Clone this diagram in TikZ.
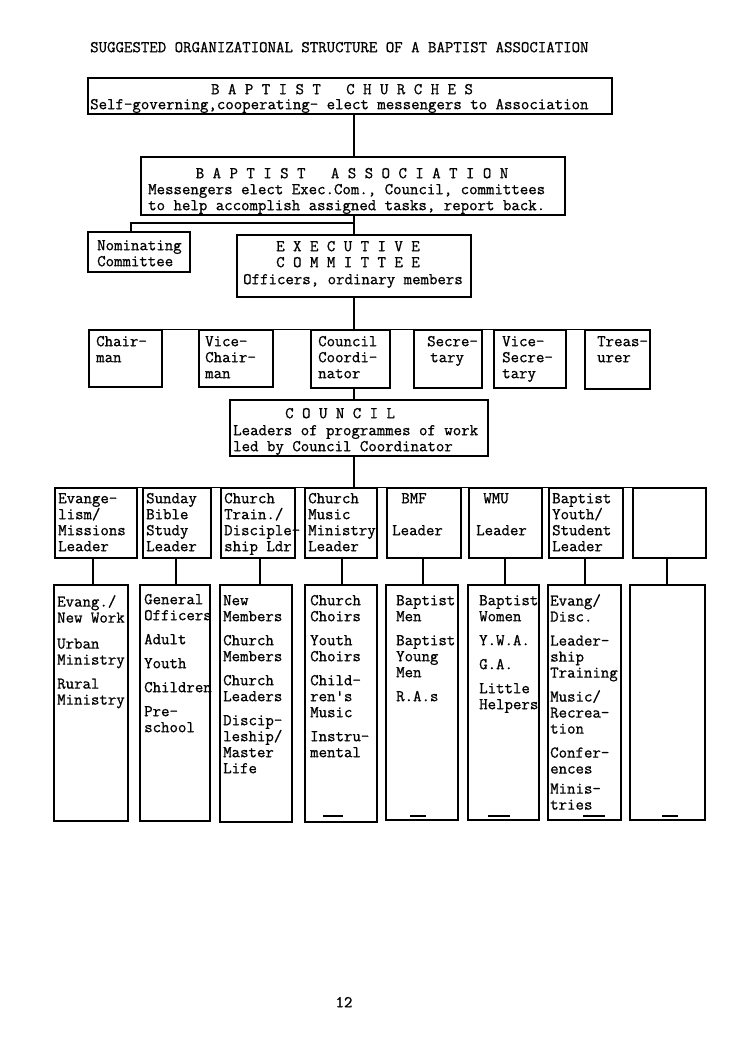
\documentclass[tikz,border=0pt]{standalone}
\usepackage{fontspec}
\usetikzlibrary{fit}
\newfontfamily\twfam{Latin Modern Mono}[FakeBold=0.9]
\newcommand\tw{\twfam\fontsize{16.4}{16}\selectfont}
\newcommand\st{\rule{0pt}{11pt}}
\begin{document}
\begin{tikzpicture}[x=1pt,y=-1pt,
  box/.style={draw, line width=1.3pt, inner sep=0pt, fit={#1}},
  txt/.style={font=\tw, inner sep=0pt, align=left, anchor=north west},
  ctxt/.style={font=\tw, inner sep=0pt, align=center, anchor=north},
  ln/.style={line width=1.3pt},
  ulmark/.style={line width=1.6pt}]
\useasboundingbox (0,0) rectangle (749,1059);
\coordinate (spine) at (354,0);

% title
\node[txt] (title) at (90,41) {\st SUGGESTED ORGANIZATIONAL STRUCTURE OF A BAPTIST ASSOCIATION};

% churches
\node[box={(88,78) (612,114)}] (church) {};
\node[ctxt] (churchh) at (342,83) {\st B A P T I S T~~~C H U R C H E S};
\node[txt] (churcht) at (90,98) {\st Self-governing,cooperating- elect messengers to Association};

% association
\node[box={(141,157) (565,215)}] (assoc) {};
\node[ctxt] (assoch) at (352,167) {\st B A P T I S T~~~A S S O C I A T I O N};
\node[txt] (assoct) at (148,183) {\st Messengers elect Exec.Com., Council, committees\\to help accomplish assigned tasks, report back.};

% nominating
\node[box={(88,232) (190,272)}] (nom) {};
\node[txt] (nomt) at (97,239) {\st Nominating\\Committee};

% executive
\node[box={(237,235) (471,297)}] (exec) {};
\node[ctxt] (exech) at (348,240) {\st E X E C U T I V E\\C O M M I T T E E};
\node[txt] (exect) at (243,273) {\st Officers, ordinary members};

% officers
\node[box={(89,330) (162,387)}] (chair) {};
\node[txt] (chairt) at (96,335) {\st Chair-\\man};
\node[box={(199,330) (273,387)}] (vchair) {};
\node[txt] (vchairt) at (205,335) {\st Vice-\\Chair-\\man};
\node[box={(311,330) (390,388)}] (coord) {};
\node[txt] (coordt) at (318,335) {\st Council\\Coordi-\\nator};
\node[box={(414,330) (482,388)}] (sec) {};
\node[txt] (sect) at (427,335) {\st Secre-\\\hspace{3pt}tary};
\node[box={(494,330) (566,388)}] (vsec) {};
\node[txt] (vsect) at (502,335) {\st Vice-\\Secre-\\tary};
\node[box={(585,330) (650,389)}] (treas) {};
\node[txt] (treast) at (597,335) {\st Treas-\\urer};

% council
\node[box={(230,400) (488,456)}] (council) {};
\node[txt] (councilh) at (285,407) {\st C O U N C I L};
\node[txt] (councilt) at (233,424) {\st Leaders of programmes of work\\led by Council Coordinator};

% leaders
\node[box={(55,488) (137,558)}] (l1) {};
\node[txt] (l1t) at (58,492) {\st Evange-\\lism/\\Missions\\Leader};
\node[box={(143,488) (211,558)}] (l2) {};
\node[txt] (l2t) at (146,492) {\st Sunday\\Bible\\Study\\Leader};
\node[box={(221,488) (295,558)}] (l3) {};
\node[txt] (l3t) at (224,492) {\st Church\\Train./\\Disciple-\\ship Ldr};
\node[box={(305,488) (377,558)}] (l4) {};
\node[txt] (l4t) at (308,492) {\st Church\\Music\\Ministry\\Leader};
\node[box={(387,488) (461,558)}] (l5) {};
\node[ctxt] (l5h) at (414,492) {\st BMF};
\node[txt] (l5t) at (392,524) {\st Leader};
\node[box={(469,488) (542,558)}] (l6) {};
\node[ctxt] (l6h) at (496,492) {\st WMU};
\node[txt] (l6t) at (476,524) {\st Leader};
\node[box={(549,488) (623,558)}] (l7) {};
\node[txt] (l7t) at (552,492) {\st Baptist\\Youth/\\Student\\Leader};
\node[box={(633,488) (706,558)}] (l8) {};

% bottom boxes
\node[box={(54,585) (128,821)}] (b1) {};
\node[txt] (b1t) at (57,595) {\st Evang./\\New Work\\[10pt]Urban\\Ministry\\[8pt]Rural\\Ministry};
\node[box={(140,585) (210,821)}] (b2) {};
\node[txt] (b2t) at (144,593) {\st General\\Officers\\[8pt]Adult\\[8pt]Youth\\[8pt]Children\\[8pt]Pre-\\school};
\node[box={(220,585) (292,822)}] (b3) {};
\node[txt] (b3t) at (223,594) {\st New\\Members\\[8pt]Church\\Members\\[8pt]Church\\Leaders\\[8pt]Discip-\\leship/\\Master\\Life};
\node[box={(305,585) (377,822)}] (b4) {};
\node[txt] (b4t) at (310,594) {\st Church\\Choirs\\[8pt]Youth\\Choirs\\[8pt]Child-\\ren's\\Music\\[8pt]Instru-\\mental};
\node[box={(386,585) (458,820)}] (b5) {};
\node[txt] (b5t) at (396,594) {\st Baptist\\Men\\[8pt]Baptist\\Young\\Men\\[8pt]R.A.s};
\node[box={(468,585) (539,820)}] (b6) {};
\node[txt] (b6t) at (479,594) {\st Baptist\\Women\\[8pt]Y.W.A.\\[8pt]G.A.\\[8pt]Little\\Helpers};
\node[box={(548,585) (621,820)}] (b7) {};
\node[txt] (b7t) at (550,594) {\st Evang/\\Disc.\\[8pt]Leader-\\ship\\Training\\[8pt]Music/\\Recrea-\\tion\\[8pt]Confer-\\ences\\[4pt]Minis-\\tries};
\node[box={(630,585) (705,820)}] (b8) {};

% page number
\node[ctxt] (page) at (344,996) {\st 12};

% connectors
\draw[ln] (church.south -| spine) -- (assoc.north -| spine);
\draw[ln] (assoc.south -| spine) -- (exec.north -| spine);
\coordinate (nomj) at (131,223);
\draw[ln] (nomj -| spine) -- (nomj) -- (nomj |- nom.north);
\draw[ln] (exec.south -| spine) -- (spine |- chair.north);
\draw[ln] (chair.north west) -- (treas.north east);
\draw[ln] (coord.south -| spine) -- (council.north -| spine);
\draw[ln] (council.south -| spine) -- (spine |- l1.north);
\draw[ln] (l1.north west) -- (l8.north east);
\foreach \i/\x in {1/93,2/176,3/260,4/342,5/423,6/505,7/585,8/667}{
  \coordinate (c\i) at (\x,0);
  \draw[ln] (l\i.south -| c\i) -- (b\i.north -| c\i);
}
% typed underline marks
\coordinate (m4) at (333,816);
\draw[ulmark] ([xshift=-10pt]m4) -- ([xshift=10pt]m4);
\coordinate (m5) at (418,816);
\draw[ulmark] ([xshift=-8pt]m5) -- ([xshift=8pt]m5);
\coordinate (m6) at (499,816);
\draw[ulmark] ([xshift=-11pt]m6) -- ([xshift=11pt]m6);
\coordinate (m7) at (594,816);
\draw[ulmark] ([xshift=-11pt]m7) -- ([xshift=11pt]m7);
\coordinate (m8) at (670,816);
\draw[ulmark] ([xshift=-8pt]m8) -- ([xshift=8pt]m8);
\end{tikzpicture}
\end{document}
